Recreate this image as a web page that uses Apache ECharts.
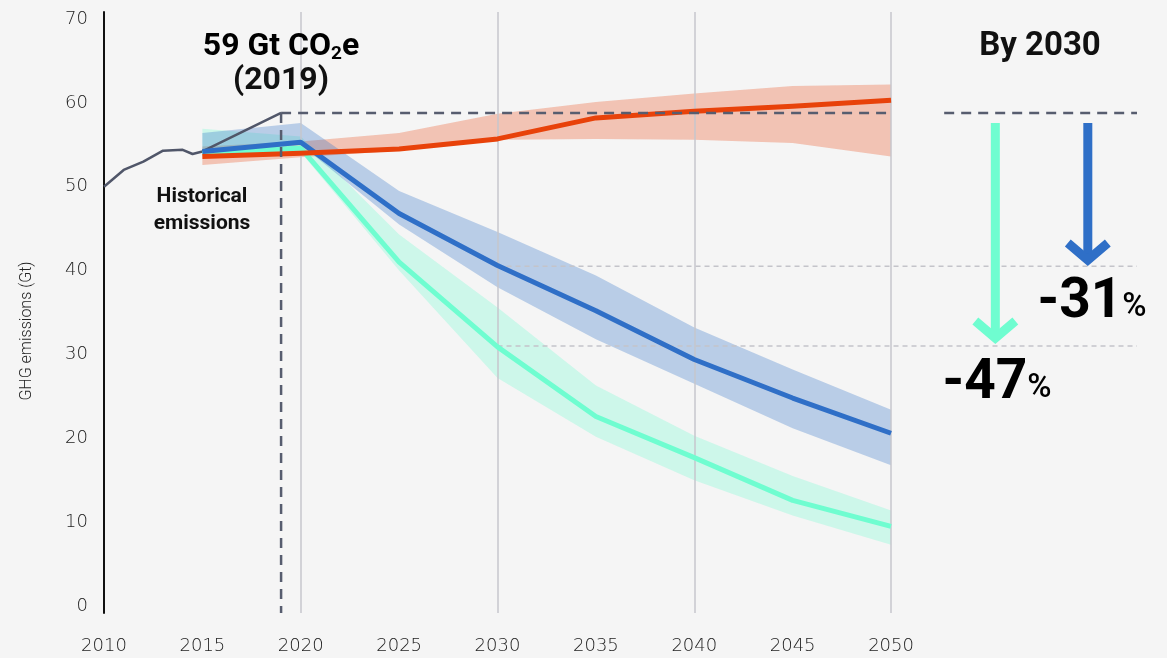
<!DOCTYPE html>
<html><head><meta charset="utf-8">
<script src="https://cdn.jsdelivr.net/npm/echarts@6/dist/echarts.min.js"></script>
<style>html,body{margin:0;padding:0;background:#f5f5f5}#c{width:1167px;height:658px}</style>
</head><body><div id="c"></div>
<script>
// ---- data ----
const xTicks = [2010, 2015, 2020, 2025, 2030, 2035, 2040, 2045, 2050];
const yTicks = [0, 10, 20, 30, 40, 50, 60, 70];
const gridYears = [2020, 2030, 2040, 2050];

const histYears  = [2010, 2011, 2012, 2013, 2014, 2014.5, 2015, 2019];
const histValues = [50.0, 52.0, 53.0, 54.3, 54.4, 53.9, 54.2, 58.8];

const years = [2015, 2020, 2025, 2030, 2035, 2040, 2045, 2050];

const redLine  = [53.6, 54.0, 54.5, 55.7, 58.2, 59.0, 59.6, 60.3];
const redLow   = [52.6, 53.5, 54.3, 55.6, 55.7, 55.6, 55.2, 53.6];
const redHigh  = [54.8, 55.4, 56.4, 58.7, 60.1, 61.1, 62.0, 62.2];

const blueLine = [54.2, 55.3, 46.8, 40.6, 35.2, 29.4, 24.8, 20.6];
const blueLow  = [54.0, 55.0, 45.5, 38.0, 31.8, 26.5, 21.2, 16.8];
const blueHigh = [56.4, 57.6, 49.5, 44.6, 39.4, 33.2, 28.2, 23.4];

const greenLine = [54.0, 54.6, 41.0, 30.9, 22.6, 17.7, 12.6, 9.5];
const greenLow  = [53.8, 54.1, 40.0, 27.2, 20.2, 15.0, 10.8, 7.3];
const greenHigh = [56.9, 56.0, 44.3, 35.6, 26.3, 20.3, 15.5, 11.4];

const baseYear = 2019;
const baseValue = 58.8;
const target2030 = [40.5, 31.0];          // -31% and -47% levels
const arrowYears = [2055.3, 2060.0];      // green, blue arrows
const arrowTop = 57.6;
const arrowTips = [31.6, 40.9];

// ---- chart ----
const X_MIN = 2010, X_MAX = 2062.5, Y_MIN = -0.83, Y_MAX = 70.83;
const RED = '#e8420a', BLUE = '#2f6fc7', GREEN = '#6ffdd0', HIST = '#505669', DASH = '#575d6f';
const LABEL_FONT = 'DejaVu Sans';
const BOLD_FONT = 'Roboto';

const chart = echarts.init(document.getElementById('c'), null, {renderer: 'canvas'});

function band(low, high, color, opacity, z) {
  return {
    type: 'custom', z: z, silent: true,
    data: years.map((y, i) => [y, low[i], high[i]]),
    renderItem: function (params, api) {
      if (params.dataIndex !== 0) return null;
      const pts = [];
      for (let i = 0; i < years.length; i++) pts.push(api.coord([years[i], high[i]]));
      for (let i = years.length - 1; i >= 0; i--) pts.push(api.coord([years[i], low[i]]));
      return {type: 'polygon', shape: {points: pts}, style: {fill: color, opacity: opacity}};
    }
  };
}
function line(xs, ys, color, width, z) {
  return {type: 'line', data: xs.map((x, i) => [x, ys[i]]), symbol: 'none', silent: true, z: z,
    lineStyle: {color: color, width: width, cap: 'butt', join: 'round'}};
}
function dashed(pts, color, width, dash, z) {
  return {type: 'line', data: pts, symbol: 'none', silent: true, z: z,
    lineStyle: {color: color, width: width, type: dash}};
}

const option = {
  backgroundColor: '#f5f5f5',
  animation: false,
  grid: {left: 104, right: 30, top: 12, bottom: 45, containLabel: false},
  xAxis: {
    type: 'value', min: X_MIN, max: X_MAX,
    axisLine: {show: false}, axisTick: {show: false}, splitLine: {show: false},
    axisLabel: {customValues: xTicks, formatter: v => String(v), margin: 24,
      color: '#222', fontSize: 18, fontFamily: LABEL_FONT, fontWeight: 200}
  },
  yAxis: {
    type: 'value', min: Y_MIN, max: Y_MAX,
    axisLine: {show: true, lineStyle: {color: '#111', width: 2}},
    axisTick: {show: false}, splitLine: {show: false},
    axisLabel: {customValues: yTicks, formatter: v => String(v), margin: 16, padding: [3, 0, 0, 0],
      color: '#222', fontSize: 18, fontFamily: LABEL_FONT, fontWeight: 200}
  },
  series: [
    {type: 'line', data: [], silent: true, z: 1,
      markLine: {silent: true, symbol: 'none', label: {show: false},
        lineStyle: {color: '#c6c6cc', width: 1.5, type: 'solid'},
        data: gridYears.map(y => ({xAxis: y}))}},
    band(redLow, redHigh, RED, 0.28, 2),
    band(greenLow, greenHigh, GREEN, 0.3, 2),
    band(blueLow, blueHigh, BLUE, 0.3, 2),
    dashed([[2030, target2030[0]], [X_MAX, target2030[0]]], '#c4c4ca', 1.5, [5, 4], 3),
    dashed([[2030, target2030[1]], [X_MAX, target2030[1]]], '#c4c4ca', 1.5, [5, 4], 3),
    line(histYears, histValues, HIST, 2.5, 4),
    line(years, greenLine, GREEN, 5, 5),
    line(years, blueLine, BLUE, 5, 6),
    line(years, redLine, RED, 5, 7),
    dashed([[baseYear, baseValue], [2050, baseValue]], DASH, 2.5, [10, 7], 8),
    dashed([[2052.7, baseValue], [X_MAX, baseValue]], DASH, 2.5, [10, 7], 8),
    dashed([[baseYear, baseValue], [baseYear, Y_MIN]], DASH, 2.5, [10, 7], 8)
  ]
};
chart.setOption(option);

const P = (x, y) => chart.convertToPixel({gridIndex: 0}, [x, y]);
function arrow(xv, tipV, color) {
  const a = P(xv, arrowTop), b = P(xv, tipV);
  return [
    {type: 'line', shape: {x1: a[0], y1: a[1], x2: b[0], y2: b[1] - 3}, style: {stroke: color, lineWidth: 9}, z: 100},
    {type: 'polyline', shape: {points: [[b[0] - 20, b[1] - 20], [b[0], b[1] - 3], [b[0] + 20, b[1] - 20]]},
      style: {stroke: color, lineWidth: 9, fill: null, lineJoin: 'miter'}, z: 100}
  ];
}
const txt = (x, y, text, size) => ({
  type: 'text', x: x, y: y, z: 100,
  style: {text: text, font: 'bold ' + size + 'px ' + BOLD_FONT, fill: '#111', align: 'center', verticalAlign: 'middle'}
});

chart.setOption({graphic: [
  ...arrow(arrowYears[0], arrowTips[0], GREEN),
  ...arrow(arrowYears[1], arrowTips[1], BLUE),
  {type: 'text', x: 281, y: 47, z: 100, style: {
    text: '{a|59 Gt CO}{s|2}{a|e}', align: 'center', verticalAlign: 'middle',
    rich: {a: {fontSize: 32, fontWeight: 'bold', fontFamily: BOLD_FONT, color: '#111', lineHeight: 36},
           s: {fontSize: 19, fontWeight: 'bold', fontFamily: BOLD_FONT, color: '#111', lineHeight: 36, padding: [14, 0, 0, 0]}}}},
  txt(281, 81, '(2019)', 32),
  txt(202, 197, 'Historical', 21),
  txt(202, 224, 'emissions', 21),
  txt(1040, 47, 'By 2030', 33),
  {type: 'text', x: 1092, y: 303, z: 100, style: {
    text: '{b|-31}{p|%}', align: 'center', verticalAlign: 'middle',
    rich: {b: {fontSize: 55, fontWeight: 'bold', fontFamily: BOLD_FONT, color: '#111', lineHeight: 58},
           p: {fontSize: 33, fontWeight: 500, fontFamily: BOLD_FONT, color: '#111', lineHeight: 58, padding: [10, 0, 0, 0]}}}},
  {type: 'text', x: 997, y: 384, z: 100, style: {
    text: '{b|-47}{p|%}', align: 'center', verticalAlign: 'middle',
    rich: {b: {fontSize: 55, fontWeight: 'bold', fontFamily: BOLD_FONT, color: '#111', lineHeight: 58},
           p: {fontSize: 33, fontWeight: 500, fontFamily: BOLD_FONT, color: '#111', lineHeight: 58, padding: [10, 0, 0, 0]}}}},
  {type: 'text', x: 27, y: 331, rotation: Math.PI / 2, z: 100, style: {
    text: 'GHG emissions (Gt)', font: '300 16px Roboto', fill: '#222', align: 'center', verticalAlign: 'middle'}}
]});
</script></body></html>
